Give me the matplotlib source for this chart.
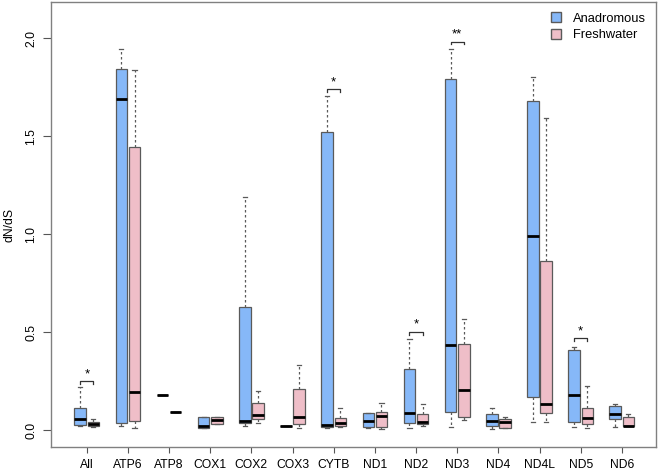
"""
dN/dS por gen: anadromos vs agua dulce (boxplots).
"""
import matplotlib
matplotlib.use('Agg')
import matplotlib.pyplot as plt
from matplotlib.patches import Patch

plt.rcParams['font.family'] = ['Liberation Sans', 'DejaVu Sans']

genes = ['All', 'ATP6', 'ATP8', 'COX1', 'COX2', 'COX3', 'CYTB',
         'ND1', 'ND2', 'ND3', 'ND4', 'ND4L', 'ND5', 'ND6']

# Anadromous: whisker low, Q1, median, Q3, whisker high
anad_low = [0.020, 0.020, 0.180, 0.009, 0.022, 0.022, 0.010, 0.009, 0.009, 0.014, 0.005, 0.039, 0.014, 0.017]
anad_q1 = [0.026, 0.034, 0.180, 0.009, 0.037, 0.022, 0.014, 0.014, 0.037, 0.090, 0.022, 0.170, 0.039, 0.056]
anad_med = [0.056, 1.691, 0.180, 0.022, 0.046, 0.022, 0.026, 0.048, 0.089, 0.434, 0.048, 0.993, 0.179, 0.080]
anad_q3 = [0.114, 1.844, 0.180, 0.068, 0.627, 0.022, 1.521, 0.085, 0.312, 1.791, 0.080, 1.682, 0.409, 0.123]
anad_high = [0.220, 1.945, 0.180, 0.068, 1.192, 0.022, 1.706, 0.085, 0.463, 1.945, 0.114, 1.805, 0.423, 0.131]

# Freshwater
fresh_low = [0.015, 0.012, 0.090, 0.031, 0.036, 0.012, 0.014, 0.003, 0.022, 0.051, 0.009, 0.042, 0.012, 0.020]
fresh_q1 = [0.020, 0.044, 0.090, 0.031, 0.055, 0.031, 0.019, 0.015, 0.031, 0.065, 0.012, 0.085, 0.029, 0.020]
fresh_med = [0.031, 0.193, 0.090, 0.051, 0.077, 0.068, 0.037, 0.073, 0.042, 0.204, 0.042, 0.131, 0.060, 0.022]
fresh_q3 = [0.042, 1.446, 0.090, 0.068, 0.140, 0.208, 0.060, 0.090, 0.080, 0.441, 0.056, 0.862, 0.111, 0.065]
fresh_high = [0.055, 1.838, 0.090, 0.068, 0.200, 0.330, 0.114, 0.140, 0.133, 0.569, 0.068, 1.595, 0.225, 0.082]

# Significancia: gen, etiqueta, altura del corchete
sig_genes = ['All', 'CYTB', 'ND2', 'ND3', 'ND5']
sig_labels = ['*', '*', '*', '**', '*']
sig_heights = [0.250, 1.742, 0.502, 1.984, 0.468]

blue = '#86B8F8'
pink = '#EFBEC8'
edge = '#5a5a5a'
offset = 0.16
width = 0.28
fs = 8.7


def make_stats(lo, q1, med, q3, hi):
    return [dict(whislo=a, q1=b, med=c, q3=d, whishi=e, fliers=[])
            for a, b, c, d, e in zip(lo, q1, med, q3, hi)]


fig = plt.figure(figsize=(6.6, 4.71), dpi=100)
ax = fig.add_axes([51 / 660, 1 - 447 / 471, 605 / 660, 445 / 471])

x = list(range(len(genes)))
groups = [
    (make_stats(anad_low, anad_q1, anad_med, anad_q3, anad_high), -offset, blue),
    (make_stats(fresh_low, fresh_q1, fresh_med, fresh_q3, fresh_high), offset, pink),
]
for stats, dx, color in groups:
    ax.bxp(stats, positions=[i + dx for i in x], widths=width,
           patch_artist=True, showfliers=False, capwidths=0.1,
           boxprops=dict(facecolor=color, edgecolor=edge, linewidth=0.9),
           whiskerprops=dict(color=edge, linestyle=(0, (2, 2)), linewidth=0.9),
           capprops=dict(color=edge, linewidth=0.9),
           medianprops=dict(color='black', linewidth=2))

# Corchetes de significancia
for g, lab, h in zip(sig_genes, sig_labels, sig_heights):
    i = genes.index(g)
    x0, x1 = i - offset, i + offset
    ax.plot([x0, x0, x1, x1], [h - 0.015, h, h, h - 0.015], color='#333333', lw=0.9)
    ax.text(i, h + 0.005, lab, ha='center', va='bottom', fontsize=9.5)

ax.set_xlim(-0.87, 13.83)
ax.set_ylim(-0.087, 2.186)
ax.set_xticks(x)
ax.set_xticklabels(genes, fontsize=fs)
ax.set_yticks([0.0, 0.5, 1.0, 1.5, 2.0])
ax.set_yticklabels(['0.0', '0.5', '1.0', '1.5', '2.0'], rotation=90,
                   va='center', fontsize=fs)
ax.tick_params(axis='x', length=4, pad=5, color='#555555')
ax.tick_params(axis='y', length=6, pad=4, color='#555555')
ax.set_ylabel('dN/dS', fontsize=fs, labelpad=7)
for s in ax.spines.values():
    s.set_color('#808080')
    s.set_linewidth(1)

handles = [Patch(facecolor=blue, edgecolor=edge, label='Anadromous'),
           Patch(facecolor=pink, edgecolor=edge, label='Freshwater')]
ax.legend(handles=handles, loc='upper right', frameon=False, fontsize=9.3,
          handlelength=0.75, handleheight=0.75, handletextpad=0.9,
          labelspacing=0.35, borderaxespad=0.4)

fig.savefig('out.png', dpi=100)
